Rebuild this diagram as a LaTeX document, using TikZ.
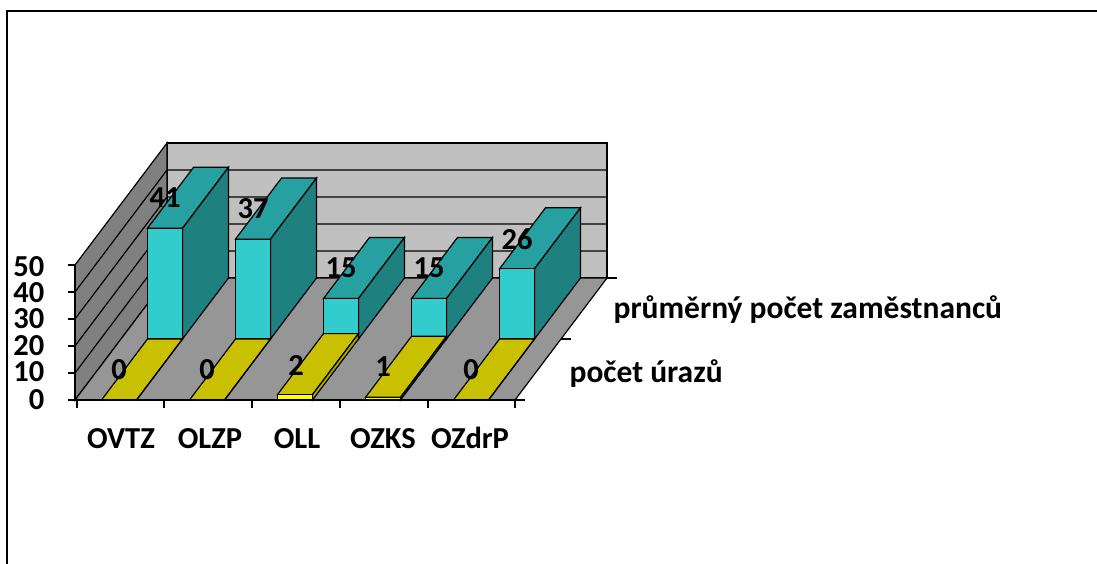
\documentclass[tikz,border=0pt]{standalone}
\usepackage{fontspec}
\setmainfont{Carlito}
\usepackage{tikz}
\usetikzlibrary{positioning}

\definecolor{wallback}{RGB}{192,192,192}
\definecolor{wallside}{RGB}{128,128,128}
\definecolor{floorgray}{RGB}{150,150,150}
\definecolor{zamfront}{RGB}{51,204,204}
\definecolor{zamtop}{RGB}{38,160,160}
\definecolor{zamside}{RGB}{31,128,128}
\definecolor{urfront}{RGB}{255,255,0}
\definecolor{urtop}{RGB}{200,192,0}
\definecolor{urside}{RGB}{170,165,0}

% one 3D column: left x, depth from, value, front, top, side
\newcommand{\cuboid}[6]{%
    \pgfmathsetmacro{\cbh}{400-2.7*#3}
    \pgfmathsetmacro{\cbd}{#2+0.5}
    \pgfmathsetmacro{\cbx}{#1+35}
    \filldraw[fill=#5] (#1,\cbh,#2) -- (\cbx,\cbh,#2) -- (\cbx,\cbh,\cbd) -- (#1,\cbh,\cbd) -- cycle;
    \filldraw[fill=#6] (\cbx,400,#2) -- (\cbx,400,\cbd) -- (\cbx,\cbh,\cbd) -- (\cbx,\cbh,#2) -- cycle;
    \filldraw[fill=#4] (#1,400,#2) rectangle (\cbx,\cbh,#2);
}

\tikzset{
    lab/.style = {font=\fontsize{30.5}{34}\selectfont\bfseries, inner sep=0pt},
    leg/.style = {font=\fontsize{31.5}{36}\selectfont\bfseries, inner sep=0pt},
    grid/.style = {draw=black, line width=1.2pt}
}

\begin{document}
\begin{tikzpicture}[x={(1pt,0pt)}, y={(0pt,-1pt)}, z={(92pt,122pt)}, line width=1.2pt]
    \useasboundingbox (0,0) rectangle (1097,564);
    \draw[line width=2pt] (7,564) -- (7,11) -- (1097,11);

    % walls and floor
    \filldraw[grid, fill=wallback] (75,265,1) rectangle (515,400,1);
    \filldraw[grid, fill=wallside] (75,400,0) -- (75,265,0) -- (75,265,1) -- (75,400,1) -- cycle;
    \filldraw[grid, fill=floorgray] (75,400,0) -- (515,400,0) -- (515,400,1) -- (75,400,1) -- cycle;
    \draw[grid] (75,373,0) -- (75,373,1) -- (515,373,1);
    \draw[grid] (75,346,0) -- (75,346,1) -- (515,346,1);
    \draw[grid] (75,319,0) -- (75,319,1) -- (515,319,1);
    \draw[grid] (75,292,0) -- (75,292,1) -- (515,292,1);

    % axes and ticks
    \draw[line width=1.5pt] (75,265) -- (75,400) -- (515,400);
    \draw (68,265) -- (75,265);
    \draw (68,292) -- (75,292);
    \draw (68,319) -- (75,319);
    \draw (68,346) -- (75,346);
    \draw (68,373) -- (75,373);
    \draw (68,400) -- (75,400);
    \draw (77,400) -- (77,408);
    \draw (164,400) -- (164,408);
    \draw (252,400) -- (252,408);
    \draw (340,400) -- (340,408);
    \draw (428,400) -- (428,408);
    \draw (515,400) -- (515,408);
    \draw (515,400,0) -- (525,400,0);
    \draw (515,400,0.5) -- (525,400,0.5);
    \draw (515,400,1) -- (525,400,1);

    % columns
    \cuboid{101.5}{0.5}{41}{zamfront}{zamtop}{zamside}
    \cuboid{189.5}{0.5}{37}{zamfront}{zamtop}{zamside}
    \cuboid{277.5}{0.5}{15}{zamfront}{zamtop}{zamside}
    \cuboid{365.5}{0.5}{15}{zamfront}{zamtop}{zamside}
    \cuboid{453.5}{0.5}{26}{zamfront}{zamtop}{zamside}
    \cuboid{101.5}{0}{0}{urfront}{urtop}{urside}
    \cuboid{189.5}{0}{0}{urfront}{urtop}{urside}
    \cuboid{277.5}{0}{2}{urfront}{urtop}{urside}
    \cuboid{365.5}{0}{1}{urfront}{urtop}{urside}
    \cuboid{453.5}{0}{0}{urfront}{urtop}{urside}

    % values
    \node[lab] (zam-ovtz) at (165,198) {41};
    \node[lab] (zam-olzp) at (253,209) {37};
    \node[lab] (zam-oll) at (341,268) {15};
    \node[lab] (zam-ozks) at (429,268) {15};
    \node[lab] (zam-ozdrp) at (517,239) {26};
    \node[lab] (ur-ovtz) at (119,370) {0};
    \node[lab] (ur-olzp) at (207,370) {0};
    \node[lab] (ur-oll) at (296,365) {2};
    \node[lab] (ur-ozks) at (383,367) {1};
    \node[lab] (ur-ozdrp) at (471,370) {0};

    % axis labels
    \node[lab, anchor=east] (y50) at (45,267) {50};
    \node[lab, anchor=east] (y40) at (45,293) {40};
    \node[lab, anchor=east] (y30) at (45,319) {30};
    \node[lab, anchor=east] (y20) at (45,346) {20};
    \node[lab, anchor=east] (y10) at (45,372) {10};
    \node[lab, anchor=east] (y0) at (45,400) {0};
    \node[lab, anchor=base] (c-ovtz) at (121,448) {OVTZ};
    \node[lab, anchor=base] (c-olzp) at (210,448) {OLZP};
    \node[lab, anchor=base] (c-oll) at (297,448) {OLL};
    \node[lab, anchor=base] (c-ozks) at (383,448) {OZKS};
    \node[lab, anchor=base] (c-ozdrp) at (470,448) {OZdrP};

    % legend
    \node[leg, anchor=base west] (leg-zam) at (613,318) {průměrný počet zaměstnanců};
    \node[leg, anchor=base west] (leg-ur) at (569,382) {počet úrazů};
\end{tikzpicture}
\end{document}
